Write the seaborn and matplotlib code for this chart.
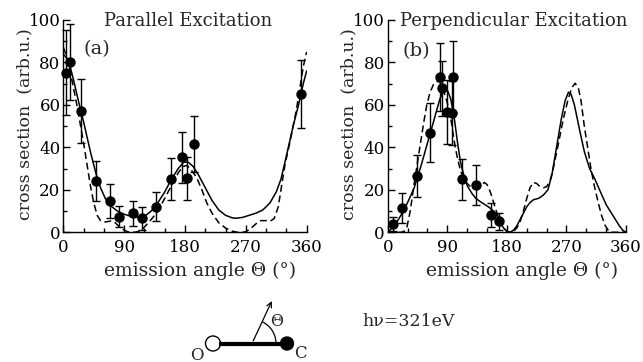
import numpy as np
import matplotlib
matplotlib.use("Agg")
import matplotlib.pyplot as plt
from matplotlib.patches import Circle, Arc, FancyArrowPatch
import seaborn as sns

# panel (a): parallel excitation
a_theta = [3.5, 9.9, 26, 48, 69.5, 83, 102.6, 116, 137, 159, 175, 183, 193, 351.6]
a_val = [75.2, 80.2, 57.1, 24.2, 14.8, 7.4, 8.9, 6.6, 12.1, 25.1, 35.3, 25.4, 41.6, 65]
a_err = [20, 18, 15, 9.5, 8, 5, 6, 5.5, 7, 10, 12, 10, 13, 16]

a_solid_x = [0, 5, 10, 15, 20, 26, 30, 40, 48, 55, 62, 70, 80, 90, 100, 110, 120, 130,
             140, 150, 160, 170, 178, 185, 192, 200, 210, 220, 230, 240, 250, 255, 265,
             275, 285, 295, 300, 306, 315, 322, 330, 340, 348, 355, 360]
a_solid_y = [84, 82, 78, 72, 65, 57, 52, 38, 28, 21, 16, 12.5, 10, 8.5, 7.5, 7, 7.5, 10,
             14, 19, 25, 30, 33, 33, 31, 27, 21, 15, 10.5, 8, 6.8, 6.6, 7,
             8, 9, 10.5, 12, 14, 19, 25, 36, 50, 60, 70, 76]

a_dash_x = [0, 5, 10, 15, 20, 25, 30, 35, 40, 45, 50, 55, 60, 65, 70, 75, 80, 85, 90, 95,
            100, 105, 110, 115, 120, 130, 140, 150, 160, 170, 177, 183, 190, 197, 205,
            212, 220, 230, 240, 250, 258, 265, 270, 278, 285, 292, 300, 306, 312, 318,
            323, 328, 335, 340, 345, 350, 355, 360]
a_dash_y = [87, 83, 76, 68, 60, 51, 42, 32, 22, 14, 8, 5.5, 4.8, 5, 5.3, 5, 3.5, 2, 1, 0.3,
            0, 0, 0.3, 1, 2.5, 6, 10, 16, 22, 28, 31, 31.5, 29, 26, 20,
            14, 9, 4.5, 2, 0.5, 0, 0, 0.3, 2, 4, 5.5, 5.5, 5.2, 6.5, 12,
            22, 32, 42, 50, 58, 68, 78, 85]

# panel (b): perpendicular excitation
b_theta = [8.6, 21.7, 43.8, 64, 79, 81.6, 89, 96.7, 98.2, 112.7, 133.3, 155.6, 168.7]
b_val = [3.9, 11.3, 26.6, 47, 73.3, 67.8, 56.8, 56.3, 73.3, 25, 22.2, 8.2, 5.3]
b_err = [3.5, 7, 10, 13.7, 16, 13, 15, 15, 17, 9.6, 9.5, 5.5, 4]

b_solid_x = [0, 5, 10, 15, 20, 30, 40, 45, 50, 60, 70, 78, 84, 90, 95, 100, 106, 110,
             114, 120, 127, 133, 140, 152, 160, 165, 170, 175, 180, 185, 190, 195, 200,
             205, 210, 215, 220, 228, 235, 242, 248, 255, 262, 268, 273, 277, 282, 290,
             297, 305, 313, 320, 330, 340, 350, 355, 360]
b_solid_y = [0, 1.5, 3.5, 5.5, 8, 14, 21, 26, 31, 42, 53, 62, 67, 67, 63, 55, 41, 33,
             28, 22, 18.4, 16, 14.4, 12, 10, 8, 4.5, 2, 0.5, 0, 1, 3, 6,
             9, 12, 14, 15.3, 16, 17.5, 20, 27, 40, 53, 62, 66, 65, 60, 48,
             38, 30, 25, 20, 13, 8, 3, 1, 0]

b_dash_x = [0, 10, 20, 25, 29, 34, 39, 44, 49, 54, 59, 64, 69, 74, 78, 82, 86, 90, 94,
            98, 102, 106, 110, 115, 120, 127, 134, 140, 146, 150, 155, 160, 165, 170,
            175, 180, 185, 190, 195, 200, 205, 210, 215, 220, 225, 230, 235, 240, 245,
            250, 258, 265, 272, 278, 283, 288, 292, 297, 302, 307, 312, 318, 323, 328,
            333, 336, 360]
b_dash_y = [0, 0, 0, 0.5, 2.5, 10, 21, 31, 41, 51, 60, 66, 69.5, 71, 71, 69, 65, 61, 56,
            48, 40, 34, 29, 25, 23, 21, 20.8, 22, 23.5, 22.5, 19, 14, 9, 5,
            2, 0.5, 0, 0.5, 2, 5, 10, 16, 21, 23.5, 23, 21.5, 21, 21.5, 24,
            30, 42, 53, 62, 68, 70.2, 68, 62, 50, 40, 30, 22, 14, 8, 3.5,
            1, 0, 0]

panels = [
    ("Parallel Excitation", "(a)", a_theta, a_val, a_err, a_solid_x, a_solid_y, a_dash_x, a_dash_y),
    ("Perpendicular Excitation", "(b)", b_theta, b_val, b_err, b_solid_x, b_solid_y, b_dash_x, b_dash_y),
]

sns.set_style("ticks")
plt.rcParams['font.family'] = ['DejaVu Serif']
plt.rcParams['mathtext.fontset'] = 'dejavuserif'

fig = plt.figure(figsize=(6.43, 3.62), dpi=100)
axes = [fig.add_axes([0.0985, 0.3583, 0.3784, 0.5865]),
        fig.add_axes([0.603, 0.3583, 0.3706, 0.5865])]

title_x = [0.5125, 0.53]
tag_pos = [(0.1385, 0.863), (0.119, 0.853)]
ylab_x = [-0.1245, -0.129]

for i, (ax, p) in enumerate(zip(axes, panels)):
    title, tag, th, val, err, sx, sy, dx, dy = p
    sns.lineplot(x=sx, y=sy, ax=ax, color='black', lw=1.1)
    sns.lineplot(x=dx, y=dy, ax=ax, color='black', lw=1.1, linestyle='--')
    ax.lines[-1].set_dashes((4.5, 2.5))
    ax.errorbar(th, val, yerr=err, fmt='o', color='black', ms=6.5, capsize=3,
                elinewidth=1, capthick=1, clip_on=False, zorder=5)
    ax.set_xlim(0, 360)
    ax.set_ylim(0, 100)
    ax.set_xticks([0, 90, 180, 270, 360])
    ax.set_xticks(np.arange(0, 361, 30), minor=True)
    ax.set_yticks(np.arange(0, 101, 20))
    ax.set_yticks(np.arange(0, 101, 10), minor=True)
    ax.tick_params(which='both', direction='in', labelsize=12, width=1, colors='black')
    ax.tick_params(which='major', length=5)
    ax.tick_params(which='minor', length=3)
    ax.tick_params(axis='x', pad=5)
    ax.tick_params(axis='y', pad=2)
    sns.despine(ax=ax)
    for s in ['left', 'bottom']:
        ax.spines[s].set_linewidth(1)
        ax.spines[s].set_color('black')
    ax.set_xlabel("emission angle \u0398 (\u00b0)", fontsize=13.5)
    ax.xaxis.set_label_coords(0.562, -0.14)
    ax.xaxis.label.set_va('top')
    ax.set_ylabel("cross section  (arb.u.)", fontsize=12.5)
    ax.yaxis.set_label_coords(ylab_x[i], 0.51)
    ax.text(title_x[i], 0.995, title, transform=ax.transAxes, ha='center', va='center',
            fontsize=13)
    ax.text(tag_pos[i][0], tag_pos[i][1], tag, transform=ax.transAxes, ha='center',
            va='center', fontsize=14)

# molecule sketch below the panels (pixel coordinates of the figure)
sk = fig.add_axes([0, 0, 1, 1], zorder=-1)
sk.set_xlim(0, 643)
sk.set_ylim(362, 0)
sk.axis('off')
sk.plot([219, 281], [343.5, 343.5], color='black', lw=3, solid_capstyle='butt')
sk.add_patch(Circle((213, 343.5), 7.5, facecolor='white', edgecolor='black', lw=1))
sk.add_patch(Circle((287, 343.5), 6.5, facecolor='black', edgecolor='black', lw=1))
sk.add_patch(FancyArrowPatch((252, 343.5), (273, 298.5), arrowstyle='->', mutation_scale=9,
                             color='black', lw=0.9))
sk.add_patch(Arc((252, 343.5), 48, 48, theta1=-64, theta2=0, color='black', lw=0.9))
sk.text(277, 322, "\u0398", fontsize=11.5, ha='center', va='center')
sk.text(197, 355, "O", fontsize=12, ha='center', va='center')
sk.text(300, 354, "C", fontsize=12, ha='center', va='center')
sk.text(362, 322, "h\u03bd=321eV", fontsize=12.5, ha='left', va='center')

fig.savefig("out.png", dpi=100)
